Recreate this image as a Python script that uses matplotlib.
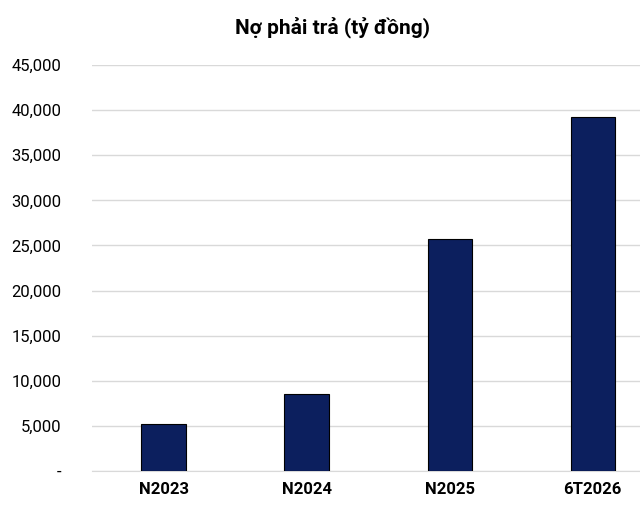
import matplotlib
matplotlib.use("Agg")
import matplotlib.pyplot as plt
from matplotlib.ticker import FuncFormatter

categories = ["N2023", "N2024", "N2025", "6T2026"]
values = [5200, 8500, 25700, 39200]

plt.rcParams['font.family'] = ['Roboto', 'DejaVu Sans']
fig = plt.figure(figsize=(6.4, 5.16), dpi=100)
ax = fig.add_axes([92/640, 45/516, 548/640, 406/516])
ax.bar(range(len(categories)), values, width=0.31, color="#0c1f5e", edgecolor="#000000", linewidth=0.8, zorder=3)
ax.set_xlim(-0.5, 3.33)
ax.set_ylim(0, 45000)
ax.set_yticks(range(0, 45001, 5000))
ax.yaxis.set_major_formatter(FuncFormatter(lambda v, p: "-" if v == 0 else f"{int(v):,}"))
ax.set_xticks(range(len(categories)))
ax.set_xticklabels(categories, fontweight="bold", fontsize=12)
ax.tick_params(axis="y", labelsize=12, length=0, pad=22)
ax.tick_params(axis="x", length=0, pad=8)
ax.grid(axis="y", color="#d9d9d9", linewidth=1, zorder=0)
for s in ["top", "right", "left"]:
    ax.spines[s].set_visible(False)
ax.spines["bottom"].set_color("#d9d9d9")
fig.text(0.52, 0.945, "Nợ phải trả (tỷ đồng)", ha="center", va="center", fontsize=15, fontweight="bold")
fig.savefig("out.png", dpi=100)
